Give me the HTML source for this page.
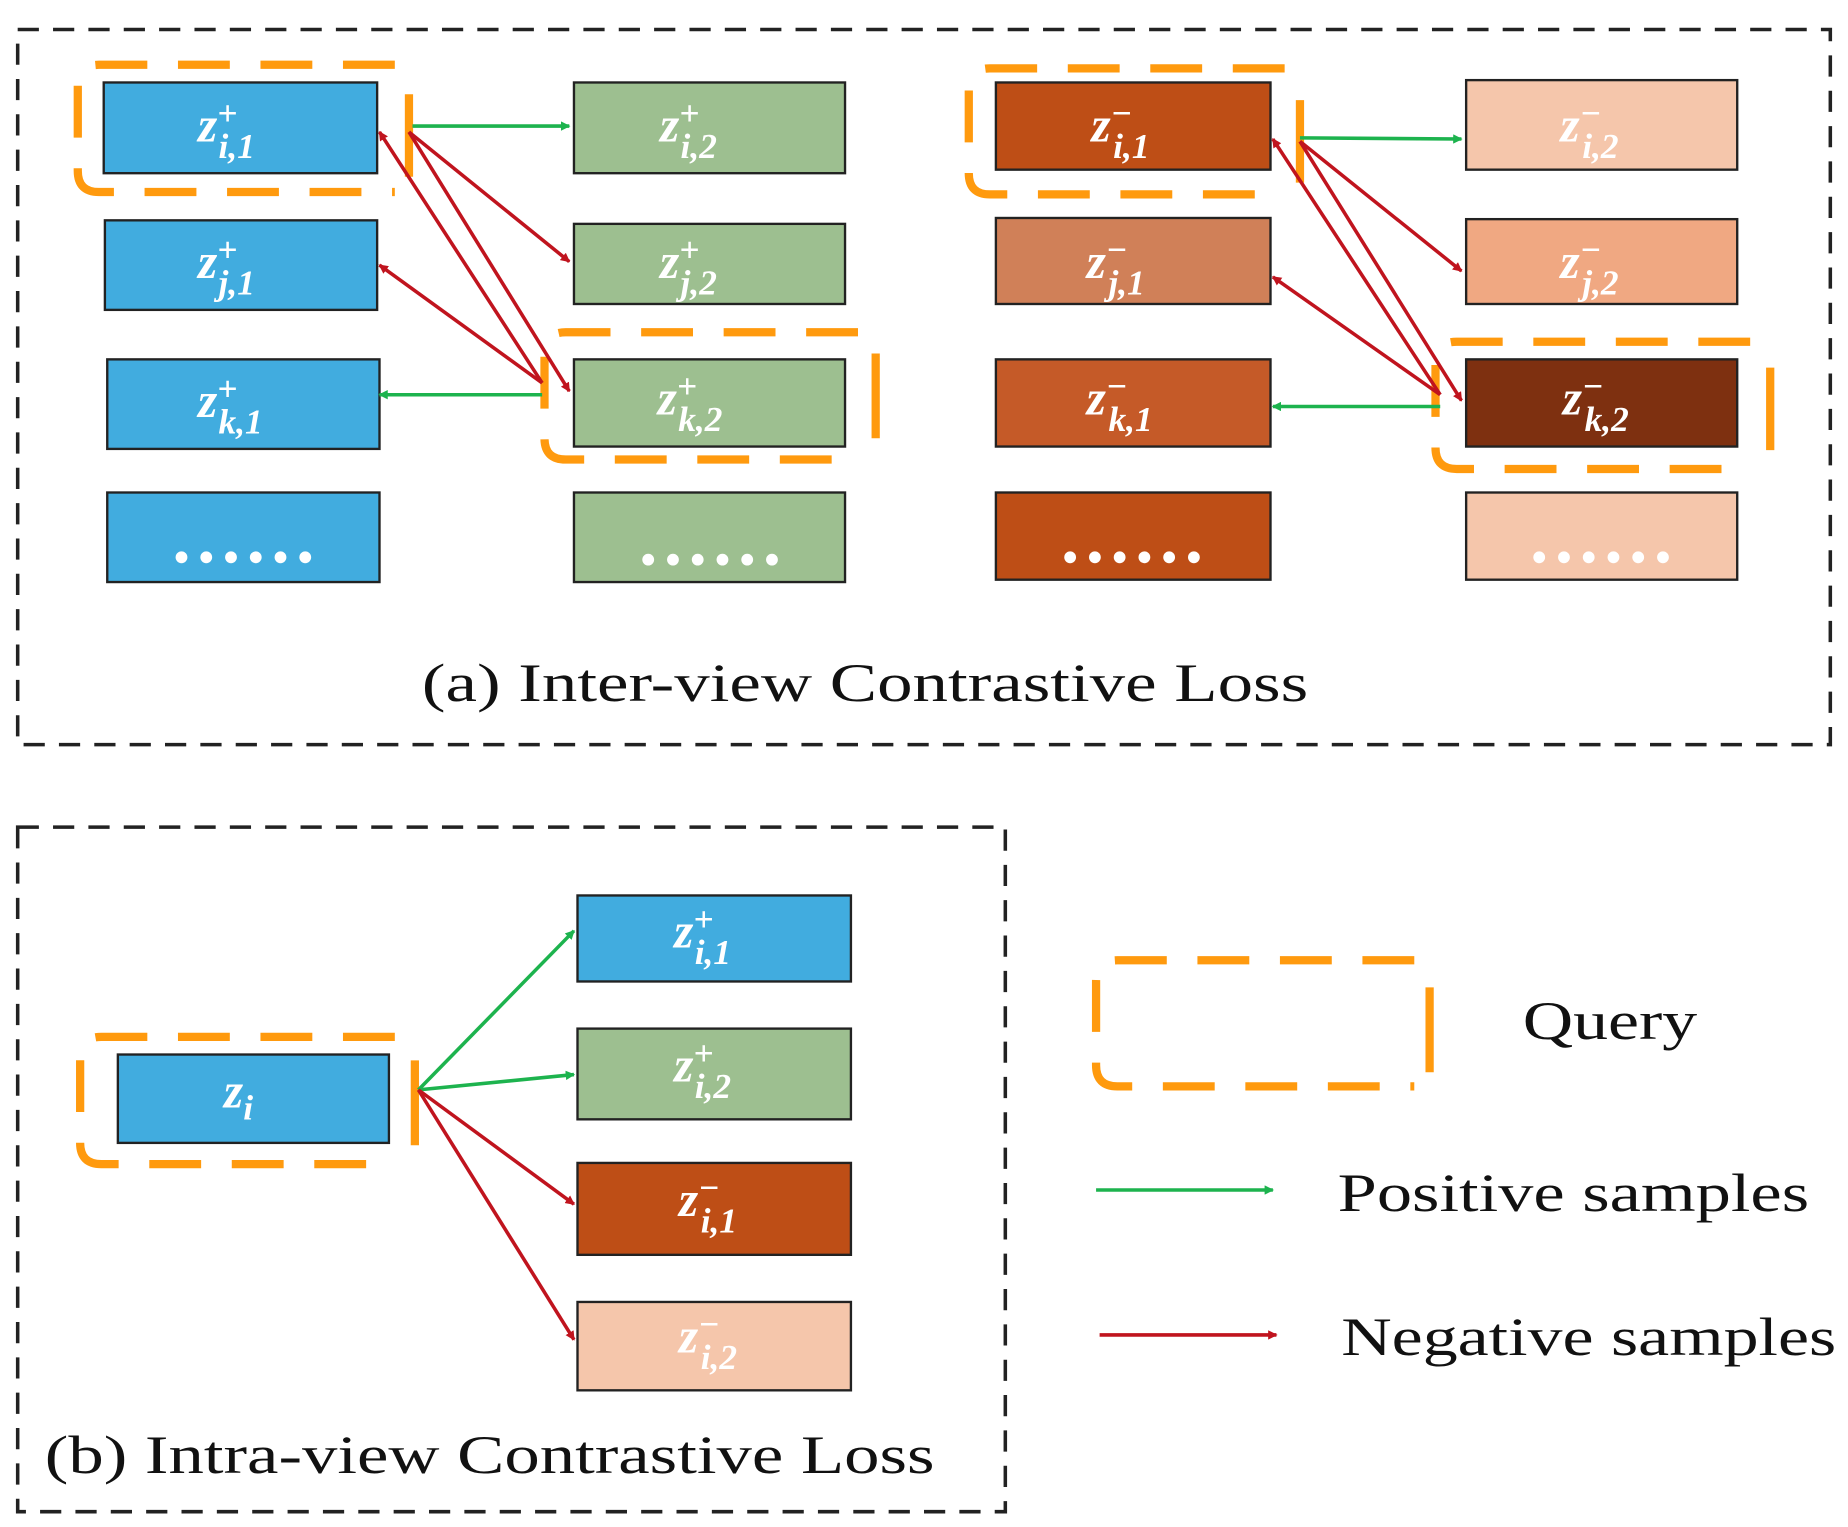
<!DOCTYPE html>
<html><head><meta charset="utf-8"><style>
html,body{margin:0;padding:0;background:#fff;}
svg{display:block;}
.l{font-family:"Liberation Serif",serif;font-style:italic;font-weight:bold;fill:#fff;}
.t{font-family:"Liberation Serif",serif;fill:#111;}
</style></head><body>
<svg width="1848" height="1527" viewBox="0 0 1568 1296" preserveAspectRatio="none" xmlns="http://www.w3.org/2000/svg">
<defs>
<marker id="g" markerWidth="8" markerHeight="8" refX="7" refY="4" orient="auto" markerUnits="userSpaceOnUse"><path d="M0,0 L8,4 L0,8 z" fill="#1DB34E"/></marker>
<marker id="r" markerWidth="8" markerHeight="8" refX="7" refY="4" orient="auto" markerUnits="userSpaceOnUse"><path d="M0,0 L8,4 L0,8 z" fill="#C0141E"/></marker>
</defs>
<g fill="none" stroke="#222" stroke-width="3" stroke-dasharray="18,12">
<rect x="15" y="25" width="1538" height="607"/>
<rect x="15" y="702" width="838" height="581"/>
</g>
<g stroke="#222" stroke-width="2">
<rect x="88" y="70" width="232" height="77" fill="#41ACDF"/>
<rect x="89" y="187" width="231" height="76" fill="#41ACDF"/>
<rect x="91" y="305" width="231" height="76" fill="#41ACDF"/>
<rect x="91" y="418" width="231" height="76" fill="#41ACDF"/>
<rect x="487" y="70" width="230" height="77" fill="#9DBF90"/>
<rect x="487" y="190" width="230" height="68" fill="#9DBF90"/>
<rect x="487" y="305" width="230" height="74" fill="#9DBF90"/>
<rect x="487" y="418" width="230" height="76" fill="#9DBF90"/>
<rect x="845" y="70" width="233" height="74" fill="#BE4E16"/>
<rect x="845" y="185" width="233" height="73" fill="#D08058"/>
<rect x="845" y="305" width="233" height="74" fill="#C55A28"/>
<rect x="845" y="418" width="233" height="74" fill="#BE4E16"/>
<rect x="1244" y="68" width="230" height="76" fill="#F5C6AB"/>
<rect x="1244" y="186" width="230" height="72" fill="#F0A882"/>
<rect x="1244" y="305" width="230" height="74" fill="#7E3010"/>
<rect x="1244" y="418" width="230" height="74" fill="#F5C6AB"/>
<rect x="100" y="895" width="230" height="75" fill="#41ACDF"/>
<rect x="490" y="760" width="232" height="73" fill="#41ACDF"/>
<rect x="490" y="873" width="232" height="77" fill="#9DBF90"/>
<rect x="490" y="987" width="232" height="78" fill="#BE4E16"/>
<rect x="490" y="1105" width="232" height="75" fill="#F5C6AB"/>
</g>
<g fill="none" stroke="#FF9A0E" stroke-width="7" stroke-dasharray="44,26">
<path d="M335,55 H84 Q66,55 66,73 V145 Q66,163 84,163 H335"/>
<path d="M728,282 H480 Q462,282 462,300 V372 Q462,390 480,390 H728"/>
<path d="M1090,58 H840 Q822,58 822,76 V147 Q822,165 840,165 H1090"/>
<path d="M1485,290 H1236 Q1218,290 1218,308 V380 Q1218,398 1236,398 H1485"/>
<path d="M335,880 H86 Q68,880 68,898 V970 Q68,988 86,988 H335"/>
<path d="M1200,815 H948 Q930,815 930,833 V904 Q930,922 948,922 H1200"/>
</g>
<g stroke="#FF9A0E" stroke-width="7">
<line x1="347" y1="80" x2="347" y2="150"/>
<line x1="743" y1="300" x2="743" y2="372"/>
<line x1="1103" y1="85" x2="1103" y2="155"/>
<line x1="1502" y1="312" x2="1502" y2="382"/>
<line x1="352" y1="900" x2="352" y2="972"/>
<line x1="1213" y1="838" x2="1213" y2="910"/>
</g>
<g stroke-width="3">
<line x1="350" y1="107" x2="483" y2="107" stroke="#1DB34E" marker-end="url(#g)"/>
<line x1="347" y1="112" x2="483" y2="222" stroke="#C0141E" marker-end="url(#r)"/>
<line x1="347" y1="112" x2="483" y2="332" stroke="#C0141E" marker-end="url(#r)"/>
<line x1="460" y1="325" x2="322" y2="112" stroke="#C0141E" marker-end="url(#r)"/>
<line x1="460" y1="325" x2="322" y2="225" stroke="#C0141E" marker-end="url(#r)"/>
<line x1="460" y1="335" x2="322" y2="335" stroke="#1DB34E" marker-end="url(#g)"/>
<line x1="1103" y1="117" x2="1240" y2="118" stroke="#1DB34E" marker-end="url(#g)"/>
<line x1="1103" y1="120" x2="1240" y2="230" stroke="#C0141E" marker-end="url(#r)"/>
<line x1="1103" y1="120" x2="1240" y2="340" stroke="#C0141E" marker-end="url(#r)"/>
<line x1="1222" y1="335" x2="1080" y2="118" stroke="#C0141E" marker-end="url(#r)"/>
<line x1="1222" y1="335" x2="1080" y2="235" stroke="#C0141E" marker-end="url(#r)"/>
<line x1="1222" y1="345" x2="1080" y2="345" stroke="#1DB34E" marker-end="url(#g)"/>
<line x1="355" y1="925" x2="487" y2="790" stroke="#1DB34E" marker-end="url(#g)"/>
<line x1="355" y1="925" x2="487" y2="912" stroke="#1DB34E" marker-end="url(#g)"/>
<line x1="355" y1="925" x2="487" y2="1022" stroke="#C0141E" marker-end="url(#r)"/>
<line x1="355" y1="925" x2="487" y2="1137" stroke="#C0141E" marker-end="url(#r)"/>
<line x1="930" y1="1010" x2="1080" y2="1010" stroke="#1DB34E" marker-end="url(#g)"/>
<line x1="933" y1="1133" x2="1083" y2="1133" stroke="#C0141E" marker-end="url(#r)"/>
</g>
<g class="l" font-size="42">
<text x="168" y="120">z<tspan font-size="30" dx="0" dy="-14">+</tspan><tspan font-size="30" dx="-16" dy="28">i,1</tspan></text>
<text x="168" y="236">z<tspan font-size="30" dx="0" dy="-14">+</tspan><tspan font-size="30" dx="-16" dy="28">j,1</tspan></text>
<text x="168" y="354">z<tspan font-size="30" dx="0" dy="-14">+</tspan><tspan font-size="30" dx="-16" dy="28">k,1</tspan></text>
<text x="560" y="120">z<tspan font-size="30" dx="0" dy="-14">+</tspan><tspan font-size="30" dx="-16" dy="28">i,2</tspan></text>
<text x="560" y="236">z<tspan font-size="30" dx="0" dy="-14">+</tspan><tspan font-size="30" dx="-16" dy="28">j,2</tspan></text>
<text x="558" y="352">z<tspan font-size="30" dx="0" dy="-14">+</tspan><tspan font-size="30" dx="-16" dy="28">k,2</tspan></text>
<text x="926" y="120">z<tspan font-size="30" dx="0" dy="-14">−</tspan><tspan font-size="30" dx="-16" dy="28">i,1</tspan></text>
<text x="922" y="236">z<tspan font-size="30" dx="0" dy="-14">−</tspan><tspan font-size="30" dx="-16" dy="28">j,1</tspan></text>
<text x="922" y="352">z<tspan font-size="30" dx="0" dy="-14">−</tspan><tspan font-size="30" dx="-16" dy="28">k,1</tspan></text>
<text x="1324" y="120">z<tspan font-size="30" dx="0" dy="-14">−</tspan><tspan font-size="30" dx="-16" dy="28">i,2</tspan></text>
<text x="1324" y="236">z<tspan font-size="30" dx="0" dy="-14">−</tspan><tspan font-size="30" dx="-16" dy="28">j,2</tspan></text>
<text x="1326" y="352">z<tspan font-size="30" dx="0" dy="-14">−</tspan><tspan font-size="30" dx="-16" dy="28">k,2</tspan></text>
<text x="190" y="940">z<tspan font-size="30" dy="10">i</tspan></text>
<text x="572" y="804">z<tspan font-size="30" dx="0" dy="-14">+</tspan><tspan font-size="30" dx="-16" dy="28">i,1</tspan></text>
<text x="572" y="918">z<tspan font-size="30" dx="0" dy="-14">+</tspan><tspan font-size="30" dx="-16" dy="28">i,2</tspan></text>
<text x="576" y="1032">z<tspan font-size="30" dx="0" dy="-14">−</tspan><tspan font-size="30" dx="-16" dy="28">i,1</tspan></text>
<text x="576" y="1148">z<tspan font-size="30" dx="0" dy="-14">−</tspan><tspan font-size="30" dx="-16" dy="28">i,2</tspan></text>
</g>
<g fill="#fff">
<g transform="translate(154,473)"><circle cx="0" r="5"/><circle cx="21" r="5"/><circle cx="42" r="5"/><circle cx="63" r="5"/><circle cx="84" r="5"/><circle cx="105" r="5"/></g>
<g transform="translate(550,475)"><circle cx="0" r="5"/><circle cx="21" r="5"/><circle cx="42" r="5"/><circle cx="63" r="5"/><circle cx="84" r="5"/><circle cx="105" r="5"/></g>
<g transform="translate(908,473)"><circle cx="0" r="5"/><circle cx="21" r="5"/><circle cx="42" r="5"/><circle cx="63" r="5"/><circle cx="84" r="5"/><circle cx="105" r="5"/></g>
<g transform="translate(1306,473)"><circle cx="0" r="5"/><circle cx="21" r="5"/><circle cx="42" r="5"/><circle cx="63" r="5"/><circle cx="84" r="5"/><circle cx="105" r="5"/></g>
</g>
<text class="t" x="358" y="595" font-size="46" textLength="752" lengthAdjust="spacingAndGlyphs">(a) Inter-view Contrastive Loss</text>
<text class="t" x="38" y="1250" font-size="46" textLength="755" lengthAdjust="spacingAndGlyphs">(b) Intra-view Contrastive Loss</text>
<text class="t" x="1292" y="882" font-size="46" textLength="148" lengthAdjust="spacingAndGlyphs">Query</text>
<text class="t" x="1135" y="1028" font-size="46" textLength="400" lengthAdjust="spacingAndGlyphs">Positive samples</text>
<text class="t" x="1138" y="1150" font-size="46" textLength="420" lengthAdjust="spacingAndGlyphs">Negative samples</text>
</svg>
</body></html>
